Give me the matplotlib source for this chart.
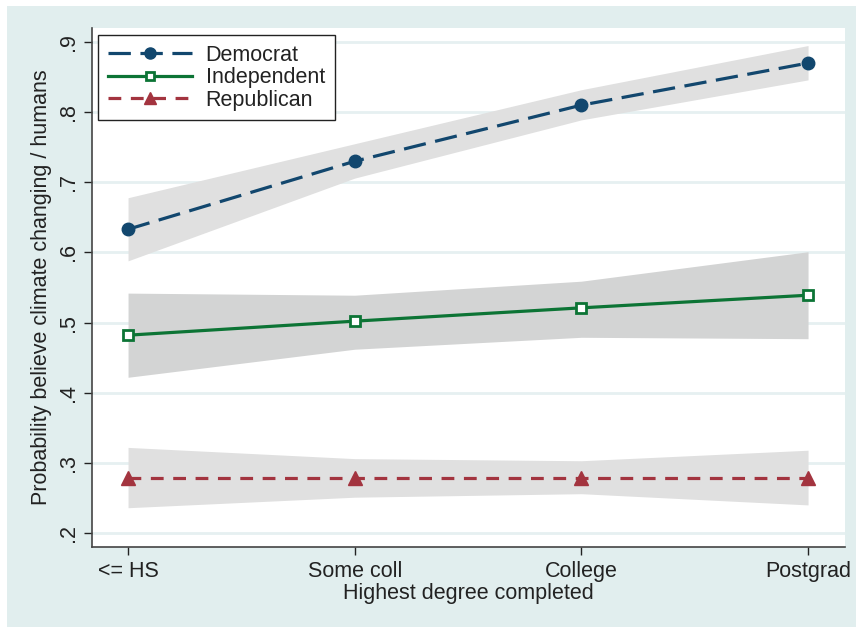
import matplotlib.pyplot as plt
from matplotlib.lines import Line2D
from matplotlib.patches import Rectangle

plt.rcParams["font.family"] = ["Liberation Sans", "DejaVu Sans"]

categories = ["<= HS", "Some coll", "College", "Postgrad"]
y_ticks = [0.2, 0.3, 0.4, 0.5, 0.6, 0.7, 0.8, 0.9]
y_tick_labels = [".2", ".3", ".4", ".5", ".6", ".7", ".8", ".9"]

dem = [0.633, 0.730, 0.810, 0.870]
dem_lo = [0.588, 0.706, 0.789, 0.846]
dem_hi = [0.678, 0.755, 0.832, 0.895]

ind = [0.482, 0.502, 0.521, 0.539]
ind_lo = [0.422, 0.462, 0.479, 0.477]
ind_hi = [0.542, 0.539, 0.559, 0.601]

rep = [0.279, 0.279, 0.279, 0.279]
rep_lo = [0.236, 0.251, 0.256, 0.240]
rep_hi = [0.322, 0.306, 0.303, 0.318]

BG = "#e1eeee"
GRID = "#e6f0f1"
NAVY = "#12476e"
GREEN = "#0c7435"
MAROON = "#a3343f"
FS = 15.5

fig = plt.figure(figsize=(8.56, 6.27), dpi=100, facecolor="white")
fig.patches.append(Rectangle((7 / 856, 0), 1, 1 - 6 / 627, transform=fig.transFigure,
                             facecolor=BG, edgecolor="none", zorder=-10))
ax = fig.add_axes([92 / 856, 1 - 547 / 627, 753 / 856, 519 / 627])
ax.set_facecolor("white")

x = list(range(len(categories)))

ax.fill_between(x, dem_lo, dem_hi, color="#e0e0e0", lw=0, zorder=2)
ax.fill_between(x, ind_lo, ind_hi, color="#d3d4d4", lw=0, zorder=2)
ax.fill_between(x, rep_lo, rep_hi, color="#e0e0e0", lw=0, zorder=2)

ax.plot(x, dem, color=NAVY, lw=2.3, dashes=(7, 3), marker="o", ms=9,
        mfc=NAVY, mec=NAVY, zorder=4)
ax.plot(x, ind, color=GREEN, lw=2.3, marker="s", ms=7.5, mfc="white",
        mec=GREEN, mew=2, zorder=4)
ax.plot(x, rep, color=MAROON, lw=2.3, dashes=(4, 3), marker="^", ms=10,
        mfc=MAROON, mec=MAROON, zorder=4)

ax.set_xlim(-0.159, 3.163)
ax.set_ylim(0.180, 0.920)
ax.set_xticks(x)
ax.set_xticklabels(categories)
ax.set_yticks(y_ticks)
ax.set_yticklabels(y_tick_labels, rotation=90, va="center")
ax.tick_params(labelsize=FS, colors="#222222", length=6, width=1, pad=4)
ax.tick_params(axis="y", pad=3)
ax.yaxis.grid(True, color=GRID, lw=2, zorder=1)
ax.set_axisbelow(True)

for s in ["top", "right"]:
    ax.spines[s].set_visible(False)
for s in ["left", "bottom"]:
    ax.spines[s].set_color("#444444")
    ax.spines[s].set_linewidth(1.2)

ax.set_xlabel("Highest degree completed", fontsize=FS, color="#222222", labelpad=1)
ax.set_ylabel("Probability believe climate changing / humans", fontsize=FS,
              color="#222222", labelpad=5)

handles = [
    Line2D([], [], color=NAVY, lw=2.3, dashes=(7, 3), marker="o", ms=8),
    Line2D([], [], color=GREEN, lw=2.3, marker="s", ms=6, mfc="white", mew=2),
    Line2D([], [], color=MAROON, lw=2.3, dashes=(4, 3), marker="^", ms=9),
]
leg = ax.legend(handles, ["Democrat", "Independent", "Republican"], loc="upper left",
                bbox_to_anchor=(6 / 753, 1 - 7 / 519), borderaxespad=0,
                fontsize=FS, numpoints=1,
                handlelength=3.9, handletextpad=0.65, labelspacing=0.07,
                borderpad=0.45, fancybox=False, framealpha=1, edgecolor="#222222")
leg.get_frame().set_linewidth(1.0)
for t in leg.get_texts():
    t.set_color("#222222")

fig.savefig("out.png", dpi=100, facecolor=fig.get_facecolor())
